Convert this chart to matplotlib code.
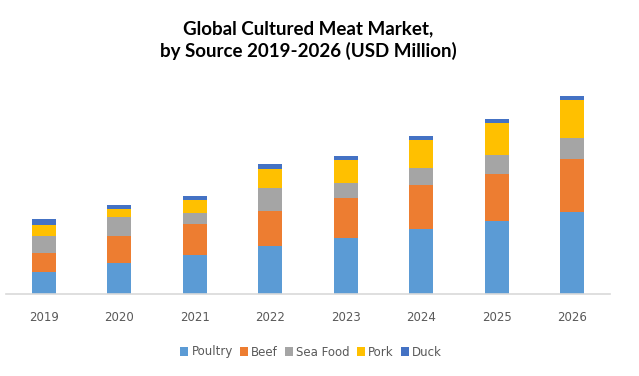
import matplotlib.pyplot as plt
import numpy as np

# данные (оценка по картинке, условные единицы)
years = ["2019", "2020", "2021", "2022", "2023", "2024", "2025", "2026"]
poultry = [22, 31, 39, 48, 56, 65, 73, 82]
beef = [19, 27, 31, 35, 40, 44, 47, 53]
sea_food = [17, 19, 11, 23, 15, 17, 19, 21]
pork = [11, 8, 13, 19, 23, 28, 32, 38]
duck = [6, 4, 4, 5, 4, 4, 4, 4]

series = [
    ("Poultry", poultry, "#5B9BD5"),
    ("Beef", beef, "#ED7D31"),
    ("Sea Food", sea_food, "#A5A5A5"),
    ("Pork", pork, "#FFC000"),
    ("Duck", duck, "#4472C4"),
]

fig = plt.figure(figsize=(6.39, 3.76), dpi=100)
ax = fig.add_axes([6.25 / 639, 1 - 294 / 376, (609.75 - 6.25) / 639, 214 / 376])

x = np.arange(len(years))
bottom = np.zeros(len(years))
for name, vals, color in series:
    ax.bar(x, vals, width=0.32, bottom=bottom, color=color, label=name, zorder=2)
    bottom += np.array(vals)

ax.set_xlim(-0.5, len(years) - 0.5)
ax.set_ylim(0, 214)
ax.set_xticks(x)
ax.set_xticklabels(years, color="#595959", fontsize=8.5)
ax.tick_params(axis="x", length=0, pad=12.5)
ax.set_yticks([])
for side in ["top", "right", "left"]:
    ax.spines[side].set_visible(False)
ax.spines["bottom"].set_color("#D9D9D9")
ax.spines["bottom"].set_linewidth(1.2)

fig.text(308 / 639, 1 - 40 / 376, "Global Cultured Meat Market,\nby Source 2019-2026 (USD Million)",
         ha="center", va="center", fontsize=13.5, fontweight="bold", family="Lato",
         linespacing=1.35)

fig.legend(loc="center", bbox_to_anchor=(311 / 639, 1 - 352 / 376), ncol=5, frameon=False,
           fontsize=8.5, labelcolor="#595959", handlelength=0.7, handleheight=0.7,
           columnspacing=0.6, handletextpad=0.25)

fig.savefig("out.png", dpi=100)
